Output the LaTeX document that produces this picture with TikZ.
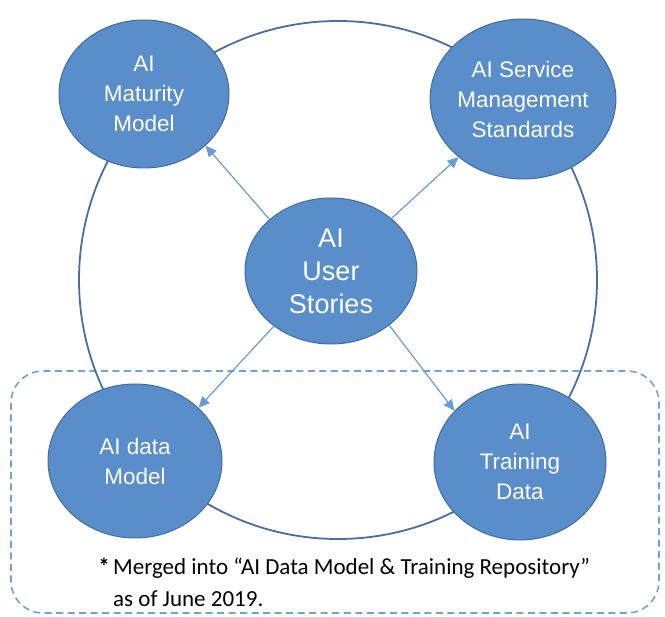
\documentclass[tikz,border=0pt]{standalone}
\usepackage{fontspec}
\setmainfont{Liberation Sans}
\newfontfamily\notefont{Carlito}
\usetikzlibrary{shapes.geometric,arrows.meta}

\definecolor{bubblefill}{RGB}{89,142,202}
\definecolor{bubbleedge}{RGB}{64,108,158}
\definecolor{ringline}{RGB}{72,110,162}
\definecolor{arrowline}{RGB}{104,156,214}
\definecolor{dashline}{RGB}{112,162,216}

\tikzset{
  bubble/.style={ellipse, draw=bubbleedge, line width=1pt, fill=bubblefill,
    text=white, inner sep=0pt, align=center,
    font=\fontsize{22.5}{30}\selectfont},
  hub/.style={bubble, font=\fontsize{27}{33}\selectfont},
  ring/.style={draw=ringline, line width=1.8pt},
  link/.style={draw=arrowline, line width=1.2pt,
    -{Triangle[length=11pt,width=10pt]}},
  mergebox/.style={draw=dashline, line width=1.6pt,
    dash pattern=on 7pt off 4.5pt, rounded corners=32pt},
  note/.style={font=\notefont\fontsize{23}{30}\selectfont, text=black,
    inner sep=0pt}
}

\begin{document}
\begin{tikzpicture}[x=1pt,y=-1pt]
  \useasboundingbox (0,0) rectangle (665,617);

  % dashed frame around the two merged topics
  \draw[mergebox] (11,371) rectangle (659,613);

  % outer ring joining the four topics
  \coordinate (ringcentre) at (338,280);
  \draw[ring] (ringcentre) circle (259pt);

  % topic bubbles
  \node[bubble, minimum width=170pt, minimum height=148pt] (maturity) at (144,94)
    {AI\\Maturity\\Model};
  \node[bubble, minimum width=172pt, minimum height=160pt] (service) at (523,99)
    {AI Service\\Management\\Standards};
  \node[hub, minimum width=172pt, minimum height=146pt] (stories) at (331,271)
    {AI\\User\\Stories};
  \node[bubble, minimum width=174pt, minimum height=154pt] (datamodel) at (135,461)
    {AI data\\Model};
  \node[bubble, minimum width=172pt, minimum height=156pt] (training) at (520,462)
    {AI\\Training\\Data};

  % links from the central user stories
  \draw[link] (stories.224) -- (datamodel.40);
  \draw[link] (stories.140) -- (maturity.320);
  \draw[link] (stories.41) -- (service.222);
  \draw[link] (stories.317) -- (training.142);

  % footnote
  \node[note, anchor=base east] (star) at (110,575) {\textbf{*}};
  \node[note, anchor=base west] (merged) at (113,575)
    {Merged into “AI Data Model \& Training Repository”};
  \node[note, anchor=base west] (since) at (113,607) {as of June 2019.};
\end{tikzpicture}
\end{document}
